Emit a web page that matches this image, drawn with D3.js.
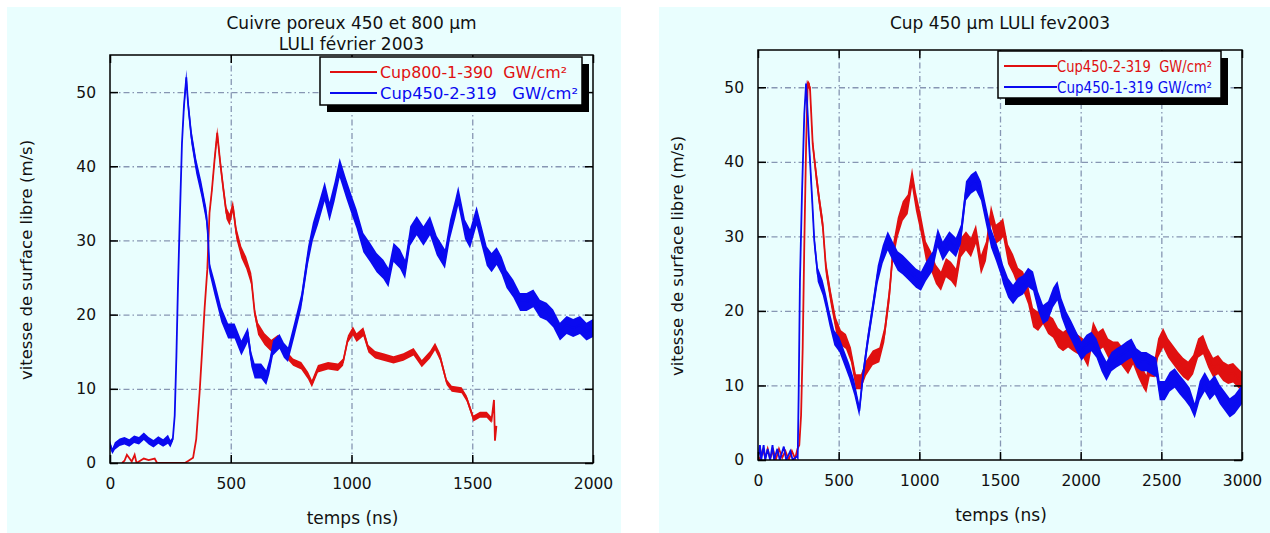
<!DOCTYPE html>
<html>
<head>
<meta charset="utf-8">
<script src="https://cdn.jsdelivr.net/npm/d3@7"></script>
<style>
  body { margin: 0; background: #fff; }
  svg { display: block; }
  text { font-family: "DejaVu Sans", Verdana, sans-serif; fill: #111; }
</style>
</head>
<body>
<svg id="chart" width="1270" height="533"></svg>
<script>
// --- data: [time ns, speed m/s, noise half-band m/s] ---
var leftRed = [[50,0,0],[60,0.3,0],[70,1.1,0],[90,0.2,0],[102,1.1,0],[110,0,0],[140,0.6,0],[160,0.4,0],[185,0.6,0],[195,0,0],[310,0,0],[325,0.3,0],[344,0.7,0],[357,3.2,0],[371,9.5,0],[381,14.9,0],[392,21,0],[403,26.1,0],[412,33.7,.3],[422,36.8,.5],[433,40.9,.6],[444,44.5,.8],[455,40.9,.8],[468,37.3,.8],[482,33.7,.8],[495,32.8,.8],[509,34.6,.8],[523,31,.8],[544,28.4,.8],[564,27,.8],[585,24.8,.8],[599,20.3,.6],[613,18.1,.8],[640,16.7,.8],[668,15.8,.8],[696,16.7,.6],[723,14.9,.5],[758,13.6,.5],[792,13.1,.5],[820,11.8,.5],[836,10.7,.5],[861,12.7,.5],[903,13.1,.5],[944,12.9,.5],[965,13.6,.5],[985,16.7,.5],[1006,17.8,.6],[1021,16.9,.6],[1049,17.7,.6],[1070,15.4,.5],[1098,14.6,.5],[1132,14.3,.5],[1174,13.9,.5],[1215,14.3,.5],[1257,15,.5],[1291,13.4,.5],[1325,14.6,.5],[1346,15.7,.5],[1367,14.3,.5],[1394,10.9,.4],[1415,10,.4],[1456,9.8,.4],[1477,8.7,.4],[1505,6,.4],[1532,6.5,.4],[1560,6.5,.4],[1580,5.8,.4],[1590,8.5,0],[1594,3,0],[1600,5,0]];

var leftBlue = [[0,2.5,.5],[10,1.6,.4],[20,2.3,.5],[40,2.8,.5],[60,3.0,.5],[80,2.7,.5],[100,3.2,.5],[120,3.0,.5],[140,3.6,.5],[160,3.0,.5],[180,2.6,.5],[200,3.1,.5],[220,2.7,.5],[240,3.2,.6],[250,2.6,.5],[260,3.2,.3],[268,6.4,0],[275,14.5,0],[281,23.2,0],[288,31.7,0],[298,43.1,.3],[306,48,.8],[316,52,1],[323,48.5,1],[337,44,1],[357,40,1],[378,37,1],[399,33.4,1],[405,31,1],[412,26.3,.8],[433,23.6,1],[461,20,1],[489,17.8,1],[516,17.8,1],[544,15.5,1],[571,17.3,1],[585,14,1],[599,12.4,1],[626,12.4,1],[647,11.5,1],[660,13,1],[675,15.5,1],[702,16.4,1],[720,15.2,1],[737,14.6,1],[765,18.2,1],[792,21.8,1],[820,28,1.2],[840,31.2,1.2],[861,33.4,1.3],[889,36.6,1.3],[909,33.9,1.3],[930,36.6,1.3],[951,39.8,1.3],[978,37,1.3],[1006,34.3,1.3],[1021,32.9,1.3],[1049,29.7,1.3],[1077,28.4,1.3],[1104,27,1.3],[1132,26.1,1.3],[1153,25,1.3],[1174,28.4,1.3],[1201,27.5,1.3],[1222,26.1,1.3],[1243,30.6,1.3],[1270,32,1.3],[1298,30.6,1.3],[1325,32,1.3],[1353,29.3,1.3],[1387,27.5,1.3],[1408,31.5,1.3],[1429,34.2,1.3],[1442,36,1.3],[1470,31.5,1.3],[1491,30.2,1.3],[1518,33.3,1.3],[1539,30.6,1.3],[1560,27.9,1.3],[1580,27,1.3],[1601,27.9,1.2],[1622,26.6,1.2],[1642,24.8,1.2],[1670,23.5,1.2],[1698,21.7,1.2],[1725,21.7,1.2],[1753,22.2,1.2],[1780,20.8,1.2],[1808,20.4,1.2],[1835,19.5,1.2],[1863,17.7,1.2],[1891,18.6,1.2],[1918,18.2,1.2],[1946,18.6,1.2],[1973,17.7,1.2],[2000,18.2,1.2]];

var rightRed = [[0,0.5,0],[15,0,0],[30,1.5,0],[45,0.3,0],[60,1.5,0],[75,0.2,0],[95,1.3,0],[110,0,0],[130,1.5,0],[150,0.3,0],[170,1.2,0],[190,0,0],[210,1.2,0],[230,0.2,0],[245,1.5,0],[256,2,0],[267,6,0],[277,15,0],[287,28.9,0],[298,42,.3],[308,50.5,.5],[322,50,.5],[339,42.4,.8],[360,38.3,1],[380,34.8,1],[401,31.6,1],[421,25.8,1],[452,21.7,1],[483,18.1,1],[514,16.4,1],[545,15.9,1],[576,14.1,1],[607,10.5,1],[638,10.5,1],[669,12.3,1],[711,13.7,1],[752,14.1,1],[783,16.8,1],[814,22.2,1.2],[835,27.6,1.2],[866,31.2,1.3],[897,33.4,1.3],[928,34.3,1.3],[955,37.9,1.3],[979,34.7,1.3],[1010,31.6,1.3],[1041,28,1.3],[1072,26.7,1.3],[1103,24.9,1.3],[1134,24,1.3],[1165,25.8,1.3],[1196,25.3,1.3],[1227,24.4,1.3],[1258,28.5,1.3],[1289,29.4,1.3],[1320,28.5,1.3],[1351,30.3,1.3],[1382,26.2,1.3],[1413,28,1.3],[1444,32.9,1.3],[1475,30.3,1.3],[1506,30.8,1.3],[1519,31.2,1.3],[1550,27.6,1.3],[1581,26.3,1.3],[1612,24.5,1.3],[1643,24,1.3],[1674,22.2,1.3],[1705,19.1,1.3],[1736,18.6,1.3],[1767,19.5,1.3],[1798,18.2,1.3],[1829,17.7,1.3],[1860,16.4,1.3],[1891,15.9,1.3],[1922,16.4,1.3],[1953,15.9,1.3],[1984,15.5,1.3],[2015,15,1.3],[2046,13.7,1.3],[2077,17.3,1.3],[2108,15.9,1.3],[2139,16.4,1.3],[2170,15,1.3],[2201,14.6,1.3],[2232,14.6,1.3],[2263,13.7,1.3],[2294,12.8,1.3],[2325,14.1,1.3],[2356,12.4,1.3],[2387,11,1.3],[2407,10.2,1.2],[2428,12.5,1.3],[2459,12.4,1.3],[2480,15,1.3],[2511,16.4,1.3],[2542,15,1.3],[2573,14.1,1.3],[2604,13.2,1.3],[2635,12.4,1.3],[2666,11.9,1.3],[2697,12.8,1.3],[2728,15,1.3],[2759,15.5,1.3],[2790,13.7,1.3],[2821,12.4,1.3],[2852,12.8,1.3],[2883,11.9,1.3],[2914,11.5,1.3],[2945,11.7,1.3],[2976,11,1.3],[3000,10.5,1.3]];

var rightBlue = [[0,0,0],[12,2,0],[20,0,0],[35,2,0],[45,0,0],[60,1.5,0],[75,0,0],[90,2,0],[100,0,0],[120,1.5,0],[135,0,0],[160,1.8,0],[175,0,0],[200,1.2,0],[215,0,0],[240,0.5,0],[246,0.3,0],[252,8.8,0],[260,24,0],[273,36,.3],[287,46.4,.5],[298,50.5,.5],[308,46.4,.8],[318,41.9,.8],[335,35.2,1],[349,29.4,1],[370,24.9,1],[401,23.1,1],[421,21.3,1],[442,19.1,1],[473,16.4,1],[504,15.5,1],[535,13.7,1],[566,11.9,1],[597,9.7,1],[628,6.6,.8],[649,11,1],[680,16,1],[711,20.4,1],[742,24.9,1.2],[773,27.6,1.2],[804,29.4,1.3],[835,28,1.3],[866,26.7,1.3],[897,26.2,1.3],[938,25.3,1.3],[979,24.4,1.3],[1010,24,1.3],[1041,25.3,1.3],[1083,26.7,1.3],[1114,29.8,1.3],[1145,28,1.3],[1186,29.4,1.3],[1227,28.5,1.3],[1258,30.3,1.3],[1289,36.1,1.3],[1320,37,1.3],[1351,37.5,1.3],[1382,36.1,1.3],[1413,32.9,1.3],[1444,29.8,1.3],[1475,28,1.3],[1506,26,1.3],[1519,24.9,1.3],[1550,23.1,1.3],[1581,22.2,1.3],[1612,23.1,1.3],[1643,23.5,1.3],[1674,24.5,1.3],[1705,24,1.3],[1736,21.3,1.3],[1767,19.5,1.3],[1798,20,1.3],[1829,21.8,1.3],[1856,22.7,1.3],[1881,20.4,1.3],[1912,18.6,1.3],[1943,17.3,1.3],[1974,15.9,1.3],[2005,14.6,1.3],[2036,15.5,1.3],[2067,15.9,1.3],[2098,15,1.3],[2129,13.2,1.3],[2160,11.9,1.3],[2191,13.2,1.3],[2222,13.7,1.3],[2253,14.1,1.3],[2284,14.6,1.3],[2315,15,1.3],[2346,13.7,1.3],[2377,13.2,1.3],[2407,13.2,1.3],[2438,12.8,1.3],[2469,12.4,1.3],[2490,9.3,1.3],[2521,9.3,1.3],[2552,10.5,1.3],[2583,11,1.3],[2614,10.1,1.3],[2645,9.3,1.3],[2676,8.4,1.3],[2707,6.6,1],[2738,9.3,1.3],[2769,10.5,1.3],[2800,9.3,1.3],[2831,10.1,1.3],[2862,8.8,1.3],[2893,7.9,1.3],[2924,7,1.3],[2955,7.5,1.3],[2986,8.4,1.3],[3000,8.8,1.3]];

var leftXTicks = [0, 500, 1000, 1500, 2000];
var rightXTicks = [0, 500, 1000, 1500, 2000, 2500, 3000];
var yTicks = [0, 10, 20, 30, 40, 50];

var leftTitle = ["Cuivre poreux 450 et 800 µm", "LULI février 2003"];
var rightTitle = ["Cup 450 µm LULI fev2003"];
var leftNames = ["Cup800-1-390  GW/cm²", "Cup450-2-319   GW/cm²"];
var rightNames = ["Cup450-2-319  GW/cm²", "Cup450-1-319 GW/cm²"];

var RED = "#e01010", BLUE = "#0a0af0", GRID = "#8796b3", BG = "#e9fefe";

var svg = d3.select("#chart");

var panels = [
  { bg: [7, 7, 614, 526], left: 110, right: 593, top: 55, bottom: 463,
    xMax: 2000, xTicks: leftXTicks, title: leftTitle, titleY: [29, 50],
    series: [leftRed, leftBlue], names: leftNames,
    legend: { x: 320, y: 57, w: 262, h: 48, lx: [330, 377], tx: 380, tl: [187, 198] },
    yLabelX: 27, xLabelY: 524, id: "L" },
  { bg: [659, 7, 611, 526], left: 758, right: 1242, top: 50, bottom: 460,
    xMax: 3000, xTicks: rightXTicks, title: rightTitle, titleY: [29],
    series: [rightRed, rightBlue], names: rightNames,
    legend: { x: 998, y: 51, w: 223, h: 47, lx: [1004, 1057], tx: 1057, tl: [155, 155] },
    yLabelX: 678, xLabelY: 521, id: "R" }
];

panels.forEach(drawPanel);

function drawPanel(p) {
  var g = svg.append("g");
  var w = p.right - p.left, h = p.bottom - p.top;

  g.append("rect")
    .attr("x", p.bg[0]).attr("y", p.bg[1])
    .attr("width", p.bg[2]).attr("height", p.bg[3])
    .attr("fill", BG);

  var x = d3.scaleLinear().domain([0, p.xMax]).range([p.left, p.right]);
  var y = d3.scaleLinear().domain([0, 55]).range([p.bottom, p.top]);

  // dash-dot grid
  g.append("g")
    .attr("transform", "translate(0," + p.bottom + ")")
    .call(d3.axisBottom(x).tickValues(p.xTicks.slice(1, -1)).tickSize(-h).tickFormat(""))
    .call(styleGrid);
  g.append("g")
    .attr("transform", "translate(" + p.left + ",0)")
    .call(d3.axisLeft(y).tickValues(yTicks.slice(1)).tickSize(-w).tickFormat(""))
    .call(styleGrid);

  // curves
  var clipId = "clip" + p.id;
  g.append("clipPath").attr("id", clipId)
    .append("rect").attr("x", p.left).attr("y", p.top).attr("width", w).attr("height", h);

  var band = d3.area()
    .x(function (d) { return x(d[0]); })
    .y0(function (d) { return y(d[1] - d[2]); })
    .y1(function (d) { return y(d[1] + d[2]); });
  var line = d3.line()
    .x(function (d) { return x(d[0]); })
    .y(function (d) { return y(d[1]); });

  var colors = [RED, BLUE];
  var cg = g.append("g").attr("clip-path", "url(#" + clipId + ")");
  p.series.forEach(function (s, i) {
    cg.append("path").datum(s).attr("d", band).attr("fill", colors[i]);
    cg.append("path").datum(s).attr("d", line)
      .attr("fill", "none").attr("stroke", colors[i]).attr("stroke-width", 1.8);
  });

  // frame
  g.append("rect")
    .attr("x", p.left).attr("y", p.top).attr("width", w).attr("height", h)
    .attr("fill", "none").attr("stroke", "#000").attr("stroke-width", 1.5);

  // inward ticks with labels on bottom and left, bare on top and right
  var fmt = d3.format("d");
  g.append("g")
    .attr("transform", "translate(0," + p.bottom + ")")
    .call(d3.axisBottom(x).tickValues(p.xTicks).tickSizeInner(-8).tickSizeOuter(0).tickPadding(15).tickFormat(fmt))
    .call(styleTicks);
  g.append("g")
    .attr("transform", "translate(0," + p.top + ")")
    .call(d3.axisTop(x).tickValues(p.xTicks).tickSizeInner(-8).tickSizeOuter(0).tickFormat(""))
    .call(styleTicks);
  g.append("g")
    .attr("transform", "translate(" + p.left + ",0)")
    .call(d3.axisLeft(y).tickValues(yTicks).tickSizeInner(-8).tickSizeOuter(0).tickPadding(14).tickFormat(fmt))
    .call(styleTicks);
  g.append("g")
    .attr("transform", "translate(" + p.right + ",0)")
    .call(d3.axisRight(y).tickValues(yTicks).tickSizeInner(-8).tickSizeOuter(0).tickFormat(""))
    .call(styleTicks);

  // titles and axis names
  var cx = (p.left + p.right) / 2;
  p.title.forEach(function (t, i) {
    g.append("text").attr("x", cx).attr("y", p.titleY[i])
      .attr("text-anchor", "middle").attr("font-size", 17).text(t);
  });
  g.append("text").attr("x", cx + 1).attr("y", p.xLabelY)
    .attr("text-anchor", "middle").attr("font-size", 17).text("temps (ns)");
  g.append("text")
    .attr("transform", "translate(" + p.yLabelX + "," + ((p.top + p.bottom) / 2 + 1) + ") rotate(-90)")
    .attr("text-anchor", "middle").attr("dominant-baseline", "middle")
    .attr("font-size", 16.5).text("vitesse de surface libre (m/s)");

  // legend box with drop shadow
  var L = p.legend;
  g.append("rect").attr("x", L.x + 7).attr("y", L.y + 7).attr("width", L.w).attr("height", L.h).attr("fill", "#000");
  g.append("rect").attr("x", L.x).attr("y", L.y).attr("width", L.w).attr("height", L.h)
    .attr("fill", BG).attr("stroke", "#000").attr("stroke-width", 1.5);
  p.names.forEach(function (name, i) {
    var ly = L.y + 15 + i * 21;
    g.append("line").attr("x1", L.lx[0]).attr("x2", L.lx[1]).attr("y1", ly).attr("y2", ly)
      .attr("stroke", colors[i]).attr("stroke-width", 2);
    g.append("text").attr("x", L.tx).attr("y", ly + 6)
      .attr("font-size", 16).attr("textLength", L.tl[i]).attr("lengthAdjust", "spacingAndGlyphs")
      .style("white-space", "pre").style("fill", colors[i]).text(name);
  });
}

function styleGrid(sel) {
  sel.select(".domain").remove();
  sel.selectAll("line")
    .attr("stroke", GRID).attr("stroke-width", 1.3).attr("stroke-dasharray", "6,3,1.5,3");
}

function styleTicks(sel) {
  sel.select(".domain").remove();
  sel.selectAll("line").attr("stroke", "#000").attr("stroke-width", 1.5);
  sel.selectAll("text").attr("font-size", 15.5).attr("font-family", "DejaVu Sans, Verdana, sans-serif").attr("fill", "#111");
}
</script>
</body>
</html>
